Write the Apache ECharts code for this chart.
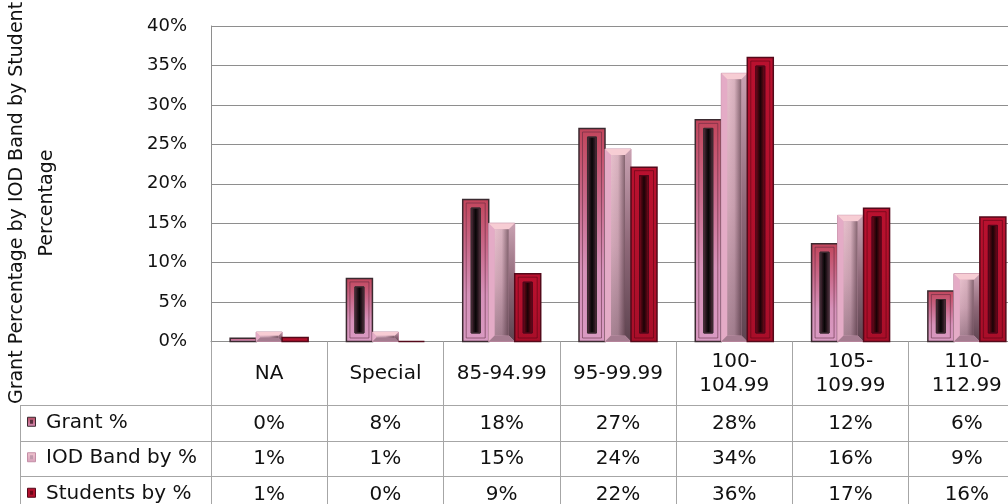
<!DOCTYPE html>
<html>
<head>
<meta charset="utf-8">
<title>Grant Percentage by IOD Band</title>
<script src="https://cdn.jsdelivr.net/npm/echarts@6/dist/echarts.min.js"></script>
<style>
  html, body { margin: 0; padding: 0; background: #ffffff; }
  #chart { width: 1008px; height: 504px; }
</style>
</head>
<body>
<div id="chart"></div>
<script>
// IOD bands (categories)
const categories = ['NA', 'Special', '85-94.99', '95-99.99', '100-104.99', '105-109.99', '110-112.99'];
// Series names as shown in the data table
const seriesNames = ['Grant %', 'IOD Band by %', 'Students by %'];
// Percentages per band
const grantPct    = [0.4, 8.0, 18.0, 27.0, 28.1, 12.4, 6.4];
const iodBandPct  = [1.2, 1.2, 15.0, 24.4, 34.0, 16.0, 8.6];
const studentsPct = [0.5, 0.0, 8.6, 22.1, 36.0, 16.9, 15.8];
// Value axis ticks
const yTicks = [0, 5, 10, 15, 20, 25, 30, 35, 40];

const FONT = 'DejaVu Sans';
const GRID_LINE = '#8e8e8e';
const TABLE_LINE = '#a6a6a6';
const BAR_FRACTION = 0.2236;
const TABLE_FONT = 20;

const chart = echarts.init(document.getElementById('chart'), null, { renderer: 'canvas' });

function vgrad(stops) {
  return { type: 'linear', x: 0, y: 0, x2: 0, y2: 1, colorStops: stops.map((c, k) => ({ offset: k / (stops.length - 1), color: c })) };
}
function hgrad(stops) {
  return { type: 'linear', x: 0, y: 0, x2: 1, y2: 0, colorStops: stops.map((c, k) => ({ offset: k / (stops.length - 1), color: c })) };
}

// Rectangle of one bar in its category band; pos 0..2 = slot within the group
function barRect(api, pos) {
  const i = api.value(0), v = api.value(1);
  const top = api.coord([i, v]);
  const base = api.coord([i, 0]);
  const band = api.size([1, 0])[0];
  const w = band * BAR_FRACTION;
  return { x: top[0] + (pos - 1.5) * w, y: top[1], w: w, h: base[1] - top[1] };
}

// Dark-framed bar with a central dark groove (Grant and Students)
function framedBar(r, o) {
  const kids = [{
    type: 'rect',
    shape: { x: r.x, y: r.y, width: r.w, height: r.h },
    style: { fill: o.fill, stroke: o.border, lineWidth: 1.5 }
  }];
  if (r.h > 20) {
    kids.push({
      type: 'rect',
      shape: { x: r.x + 3.5, y: r.y + 3.5, width: r.w - 7, height: r.h - 7 },
      style: { fill: null, stroke: o.innerLine, lineWidth: 1 }
    });
    const sw = 9;
    kids.push({
      type: 'rect',
      shape: { x: r.x + (r.w - sw) / 2, y: r.y + 8.5, width: sw, height: r.h - 17 },
      style: { fill: o.groove, stroke: o.grooveEdge, lineWidth: 1 }
    });
  }
  return { type: 'group', children: kids };
}

// Soft pink slanted-bevel bar (IOD Band)
function bevelBar(r) {
  const b = Math.max(1, Math.min(6, r.h / 2.5, r.w / 4));
  const x0 = r.x, x1 = r.x + r.w, y0 = r.y, y1 = r.y + r.h;
  return {
    type: 'group',
    children: [
      { type: 'rect', shape: { x: x0, y: y0, width: r.w, height: r.h },
        style: { fill: '#d9a3bd', stroke: '#c48ea6', lineWidth: 1 } },
      { type: 'polygon', shape: { points: [[x0, y0], [x0 + b, y0 + b], [x0 + b, y1 - b], [x0, y1]] },
        style: { fill: '#e4abc6' } },
      { type: 'polygon', shape: { points: [[x1, y0], [x1, y1], [x1 - b, y1 - b], [x1 - b, y0 + b]] },
        style: { fill: vgrad(['#c9a2b2', '#8e6878', '#5e4450']) } },
      { type: 'polygon', shape: { points: [[x0, y1], [x1, y1], [x1 - b, y1 - b], [x0 + b, y1 - b]] },
        style: { fill: '#a57c90' } },
      { type: 'polygon', shape: { points: [[x0, y0], [x1, y0], [x1 - b, y0 + b], [x0 + b, y0 + b]] },
        style: { fill: '#f7cdd4' } },
      { type: 'rect', shape: { x: x0 + b, y: y0 + b, width: r.w - 2 * b, height: Math.max(0, r.h - 2 * b) },
        style: { fill: vgrad(['#e6bfcb', '#d2a8b8', '#a88494']) } },
      { type: 'rect', shape: { x: x0 + b, y: y0 + b, width: r.w - 2 * b, height: Math.max(0, r.h - 2 * b) },
        style: { fill: hgrad(['rgba(60,30,45,0)', 'rgba(60,30,45,0.08)', 'rgba(50,25,35,0.55)']) } }
    ]
  };
}

const grantStyle = {
  fill: vgrad(['#c2455b', '#c9698a', '#d691b9', '#d99ac2']),
  border: '#3b2a30',
  innerLine: 'rgba(90,40,60,0.55)',
  groove: hgrad(['#6a3a4c', '#2a1820', '#080506', '#2a1820', '#6a3a4c']),
  grooveEdge: '#3a2a30'
};
const studentsStyle = {
  fill: vgrad(['#b9112f', '#b2102c', '#a80e29']),
  border: '#54091a',
  innerLine: 'rgba(90,5,20,0.6)',
  groove: hgrad(['#8a0a22', '#4a0610', '#1a0206', '#4a0610', '#8a0a22']),
  grooveEdge: '#52061a'
};

function toPairs(arr) { return arr.map((v, i) => [i, v]); }

const option = {
  backgroundColor: '#ffffff',
  animation: false,
  // plot area runs past the right edge of the page, so the last band is cut off
  grid: { left: 211, width: 814, top: 26, bottom: 162.5, outerBoundsMode: 'none', containLabel: false },
  xAxis: {
    type: 'category',
    data: categories,
    boundaryGap: true,
    axisLine: { show: true, lineStyle: { color: GRID_LINE, width: 1 } },
    axisTick: { show: true, length: 175, lineStyle: { color: TABLE_LINE, width: 1 } },
    axisLabel: {
      interval: 0,
      margin: 32,
      verticalAlign: 'middle',
      fontFamily: FONT,
      fontSize: TABLE_FONT,
      lineHeight: 24,
      color: '#111',
      formatter: name => (name.length > 8 ? name.replace('-', '-\n') : name)
    },
    splitLine: { show: false }
  },
  yAxis: {
    type: 'value',
    min: yTicks[0],
    max: yTicks[yTicks.length - 1],
    interval: yTicks[1] - yTicks[0],
    axisLine: { show: true, lineStyle: { color: GRID_LINE, width: 1 } },
    axisTick: { show: false },
    axisLabel: { margin: 24, fontFamily: FONT, fontSize: 18, color: '#111', formatter: '{value}%' },
    splitLine: { show: true, lineStyle: { color: GRID_LINE, width: 1 } }
  },
  series: [
    { name: seriesNames[0], type: 'custom', data: toPairs(grantPct), encode: { x: 0, y: 1 },
      renderItem: (p, api) => framedBar(barRect(api, 0), grantStyle), z: 3 },
    { name: seriesNames[1], type: 'custom', data: toPairs(iodBandPct), encode: { x: 0, y: 1 },
      renderItem: (p, api) => bevelBar(barRect(api, 1)), z: 3 },
    { name: seriesNames[2], type: 'custom', data: toPairs(studentsPct), encode: { x: 0, y: 1 },
      renderItem: (p, api) => framedBar(barRect(api, 2), studentsStyle), z: 3 }
  ]
};
chart.setOption(option);

// Data table under the plot, aligned to the category axis
function buildTable() {
  const rows = [grantPct, iodBandPct, studentsPct];
  const headerBottom = 405;
  const rowH = 35.5;
  const tableLeft = 20;
  const rightEdge = 1008;
  const g = [];
  // horizontal rules
  for (let r = 0; r <= rows.length - 1; r++) {
    const y = Math.round(headerBottom + r * rowH) + 0.5;
    g.push({ type: 'line', shape: { x1: tableLeft, y1: y, x2: rightEdge, y2: y },
      style: { stroke: TABLE_LINE, lineWidth: 1 }, silent: true });
  }
  // left border of legend column
  g.push({ type: 'line', shape: { x1: tableLeft + 0.5, y1: headerBottom, x2: tableLeft + 0.5, y2: 504 },
    style: { stroke: TABLE_LINE, lineWidth: 1 }, silent: true });
  // legend keys and series names
  const keyFills = [
    { fill: vgrad(['#b84a60', '#d690b8']), stroke: '#3b2a30', inner: '#5a3040' },
    { fill: vgrad(['#f2c6d0', '#d6a0ba']), stroke: '#c48ea6', inner: '#c09aac' },
    { fill: '#b3102d', stroke: '#54091a', inner: '#6a0818' }
  ];
  rows.forEach((vals, r) => {
    const cy = headerBottom + r * rowH + rowH / 2;
    const kf = keyFills[r];
    g.push({ type: 'rect', shape: { x: 27.5, y: cy - 5.5, width: 8, height: 9 },
      style: { fill: kf.fill, stroke: kf.stroke, lineWidth: 1 }, silent: true });
    g.push({ type: 'rect', shape: { x: 30, y: cy - 3, width: 3, height: 4 },
      style: { fill: kf.inner }, silent: true });
    g.push({ type: 'text', x: 46, y: cy, style: { text: seriesNames[r], fontFamily: FONT, fontSize: TABLE_FONT,
      fill: '#111', align: 'left', verticalAlign: 'middle' }, silent: true });
    vals.forEach((v, i) => {
      const px = chart.convertToPixel({ xAxisIndex: 0 }, i);
      g.push({ type: 'text', x: px, y: cy + 1, style: { text: Math.round(v) + '%', fontFamily: FONT, fontSize: TABLE_FONT,
        fill: '#111', align: 'center', verticalAlign: 'middle' }, silent: true });
    });
  });
  // value axis title
  g.push({ type: 'text', x: 32, y: 203, rotation: Math.PI / 2,
    style: { text: 'Grant Percentage by IOD Band by Student\nPercentage', fontFamily: FONT, fontSize: 19,
      lineHeight: 30, fill: '#111', align: 'center', verticalAlign: 'middle' }, silent: true });
  chart.setOption({ graphic: { elements: g } });
}
buildTable();
</script>
</body>
</html>
